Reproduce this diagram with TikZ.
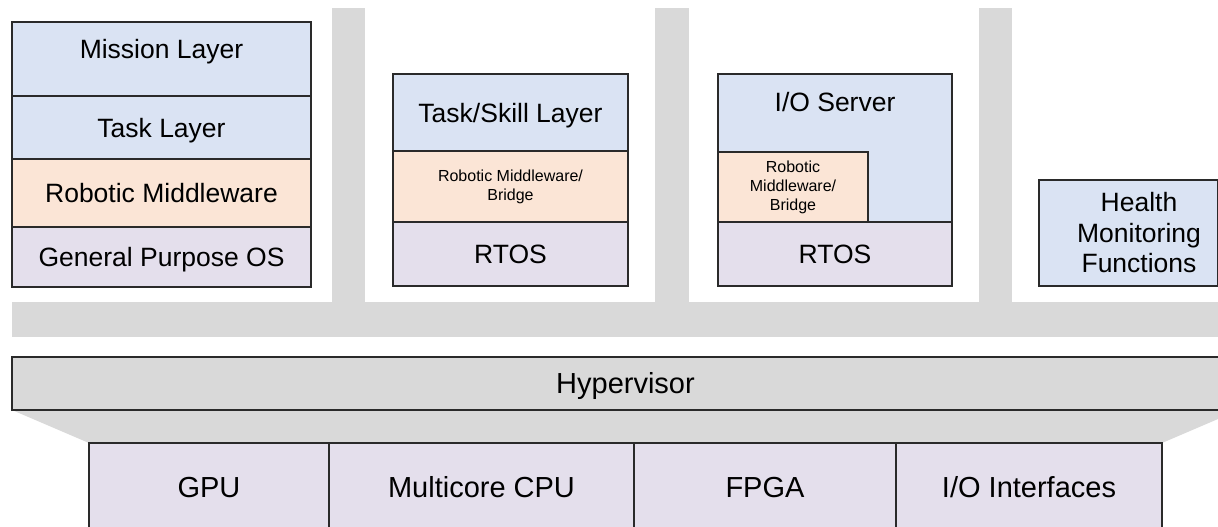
\documentclass[tikz,border=0pt]{standalone}
\usepackage{fontspec}
\setmainfont{Liberation Sans}

\definecolor{layerblue}{HTML}{DAE3F3}
\definecolor{layerpeach}{HTML}{FBE5D6}
\definecolor{layerlilac}{HTML}{E4DFEC}
\definecolor{busgray}{HTML}{D9D9D9}
\definecolor{edge}{HTML}{2A2A2A}

\newcommand\bigtext{\fontsize{26.5}{30.5}\selectfont}
\newcommand\smalltext{\fontsize{16}{19}\selectfont}
\newcommand\hwtext{\fontsize{29}{33}\selectfont}

\tikzset{
  layer/.style={draw=edge, line width=1.1pt, inner sep=0pt, outer sep=0pt,
                anchor=north west, align=center, font=\bigtext},
  blue/.style={layer, fill=layerblue},
  peach/.style={layer, fill=layerpeach},
  lilac/.style={layer, fill=layerlilac},
  bar/.style={fill=busgray, draw=none, inner sep=0pt, outer sep=0pt, anchor=north west},
  txt/.style={inner sep=0pt, align=center, font=\bigtext},
  % single lines centred on their capital letters
  capbig/.style={text height=19pt, text depth=0pt},
  caphw/.style={font=\hwtext, text height=20.8pt, text depth=0pt},
}

\begin{document}
\begin{tikzpicture}[x=1pt, y=-1pt]
  \useasboundingbox (0,0) rectangle (1218,527);
  \clip (0,0) rectangle (1218,527);

  % shared bus and partition links
  \node[bar, minimum width=1210pt, minimum height=35pt] (bus) at (12,302) {};
  \node[bar, minimum width=33pt, minimum height=295pt] (link1) at (332,8) {};
  \node[bar, minimum width=34pt, minimum height=295pt] (link2) at (655,8) {};
  \node[bar, minimum width=33pt, minimum height=295pt] (link3) at (979,8) {};

  % partition 1: general purpose stack
  \node[blue, minimum width=299pt, minimum height=74pt] (mission) at (12,22) {};
  \node[txt, capbig] (missiontext) at (161.5,49.5) {Mission Layer};
  \node[blue, capbig, minimum width=299pt, minimum height=63pt] (task) at (12,96) {Task Layer};
  \node[peach, capbig, minimum width=299pt, minimum height=68pt] (mw1) at (12,159) {Robotic Middleware};
  \node[lilac, capbig, minimum width=299pt, minimum height=60pt] (gpos) at (12,227) {General Purpose OS};

  % partition 2: real-time skill stack
  \node[blue, capbig, minimum width=235pt, minimum height=77pt] (skill) at (393,74) {Task/Skill Layer};
  \node[peach, minimum width=235pt, minimum height=71pt, font=\smalltext] (mw2) at (393,151)
       {Robotic Middleware/\\Bridge};
  \node[lilac, capbig, minimum width=235pt, minimum height=64pt] (rtos2) at (393,222) {RTOS};

  % partition 3: I/O server
  \node[blue, minimum width=234pt, minimum height=148pt] (ioserver) at (718,74) {};
  \node[txt, capbig] (iotext) at (835,101.5) {I/O Server};
  \node[peach, minimum width=150pt, minimum height=70pt, font=\smalltext] (mw3) at (718,152)
       {Robotic\\Middleware/\\Bridge};
  \node[lilac, capbig, minimum width=234pt, minimum height=64pt] (rtos3) at (718,222) {RTOS};

  % partition 4: health monitoring
  \node[blue, minimum width=178.5pt, minimum height=106pt] (health) at (1039,180) {};
  \node[txt] (healthtext) at (1139,233) {Health\\Monitoring\\Functions};

  % hypervisor and its footprint on the hardware
  \fill[busgray] (12,410) -- (1239,410) -- (1162,443) -- (89,443) -- cycle;
  \node[layer, fill=busgray, minimum width=1227pt, minimum height=53pt] (hyp) at (12,357) {};
  \node[txt, caphw] (hyptext) at (625.5,383.5) {Hypervisor};

  % hardware platform
  \node[lilac, caphw, minimum width=240pt, minimum height=88pt] (gpu) at (89,443) {GPU};
  \node[lilac, caphw, minimum width=305pt, minimum height=88pt] (cpu) at (329,443) {Multicore CPU};
  \node[lilac, caphw, minimum width=262pt, minimum height=88pt] (fpga) at (634,443) {FPGA};
  \node[lilac, caphw, minimum width=266pt, minimum height=88pt] (io) at (896,443) {I/O Interfaces};
\end{tikzpicture}
\end{document}
